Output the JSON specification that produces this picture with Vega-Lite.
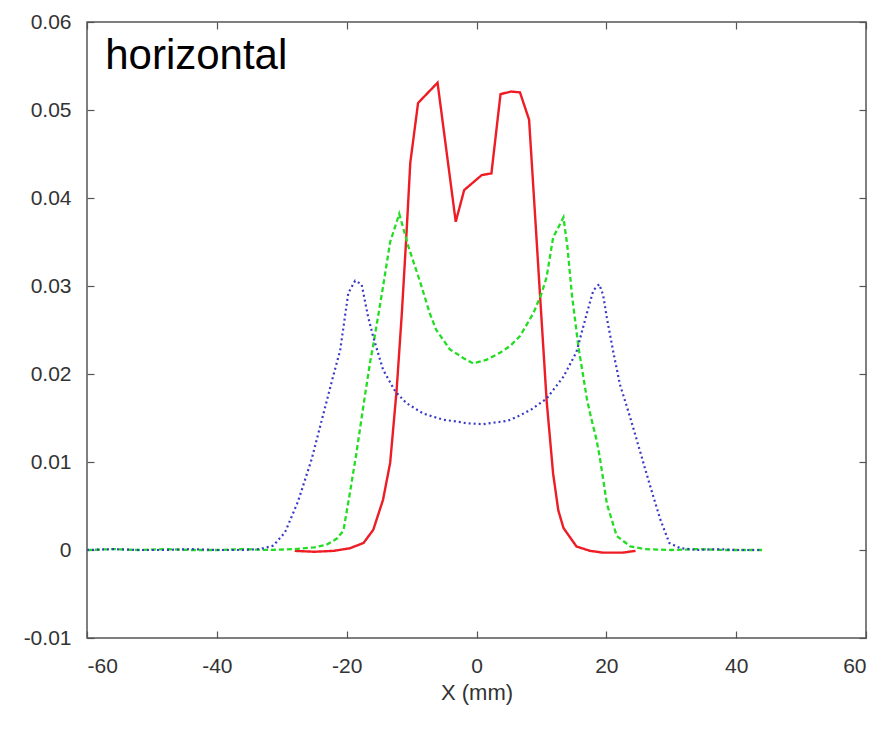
{
  "$schema": "https://vega.github.io/schema/vega-lite/v6.json",
  "width": 779,
  "height": 616,
  "autosize": {"type": "none"},
  "padding": {"left": 87, "top": 22, "right": 20, "bottom": 96},
  "background": "white",
  "config": {
    "view": {"stroke": "#555555", "strokeWidth": 1.5},
    "axis": {
      "grid": false,
      "domain": false,
      "tickColor": "#555555",
      "tickWidth": 1.2,
      "tickSize": -7,
      "labelFont": "Liberation Sans",
      "labelFontSize": 21,
      "labelColor": "#333333",
      "titleFont": "Liberation Sans",
      "titleFontSize": 22,
      "titleFontWeight": "normal",
      "titleColor": "#333333"
    }
  },
  "datasets": {
    "curves": [
      {"series": "red", "x": -28, "y": -0.0001},
      {"series": "red", "x": -25, "y": -0.0002},
      {"series": "red", "x": -22, "y": -0.0001},
      {"series": "red", "x": -19.5, "y": 0.0002},
      {"series": "red", "x": -17.4, "y": 0.0008},
      {"series": "red", "x": -15.9, "y": 0.0023},
      {"series": "red", "x": -14.4, "y": 0.0057},
      {"series": "red", "x": -13.3, "y": 0.0099},
      {"series": "red", "x": -12.3, "y": 0.0182},
      {"series": "red", "x": -11.5, "y": 0.0269},
      {"series": "red", "x": -10.75, "y": 0.0364},
      {"series": "red", "x": -10.2, "y": 0.044},
      {"series": "red", "x": -9.0, "y": 0.0508},
      {"series": "red", "x": -6.0, "y": 0.0531},
      {"series": "red", "x": -3.2, "y": 0.0373},
      {"series": "red", "x": -1.9, "y": 0.0409},
      {"series": "red", "x": 0.8, "y": 0.0426},
      {"series": "red", "x": 2.3, "y": 0.0428},
      {"series": "red", "x": 3.7, "y": 0.0518},
      {"series": "red", "x": 5.3, "y": 0.0521},
      {"series": "red", "x": 6.7, "y": 0.052},
      {"series": "red", "x": 8.1, "y": 0.0489},
      {"series": "red", "x": 9.0, "y": 0.0383},
      {"series": "red", "x": 9.8, "y": 0.0288},
      {"series": "red", "x": 10.8, "y": 0.017},
      {"series": "red", "x": 11.8, "y": 0.0087},
      {"series": "red", "x": 12.6, "y": 0.0045},
      {"series": "red", "x": 13.4, "y": 0.0025},
      {"series": "red", "x": 15.4, "y": 0.0004},
      {"series": "red", "x": 17.5, "y": -0.0001},
      {"series": "red", "x": 19.5, "y": -0.0003},
      {"series": "red", "x": 22.5, "y": -0.0003},
      {"series": "red", "x": 24.5, "y": -0.0001},

      {"series": "green", "x": -60, "y": 0},
      {"series": "green", "x": -56, "y": 0.0001},
      {"series": "green", "x": -52, "y": 0},
      {"series": "green", "x": -48, "y": 0.0001},
      {"series": "green", "x": -44, "y": 0},
      {"series": "green", "x": -40, "y": 0},
      {"series": "green", "x": -36, "y": 0.0001},
      {"series": "green", "x": -32, "y": 0},
      {"series": "green", "x": -28, "y": 0.0001},
      {"series": "green", "x": -25, "y": 0.0003},
      {"series": "green", "x": -23.1, "y": 0.0006},
      {"series": "green", "x": -21.5, "y": 0.0013},
      {"series": "green", "x": -20.5, "y": 0.0022},
      {"series": "green", "x": -19.5, "y": 0.0065},
      {"series": "green", "x": -18.5, "y": 0.011},
      {"series": "green", "x": -17.4, "y": 0.0165},
      {"series": "green", "x": -16.4, "y": 0.0213},
      {"series": "green", "x": -15.9, "y": 0.0233},
      {"series": "green", "x": -14.6, "y": 0.029},
      {"series": "green", "x": -13.3, "y": 0.035},
      {"series": "green", "x": -11.9, "y": 0.0382},
      {"series": "green", "x": -10.5, "y": 0.0345},
      {"series": "green", "x": -8.7, "y": 0.0305},
      {"series": "green", "x": -7.2, "y": 0.0269},
      {"series": "green", "x": -6.2, "y": 0.025},
      {"series": "green", "x": -4.1, "y": 0.0228},
      {"series": "green", "x": -2.0, "y": 0.0218},
      {"series": "green", "x": -0.5, "y": 0.0212},
      {"series": "green", "x": 1.5, "y": 0.0216},
      {"series": "green", "x": 3.6, "y": 0.0224},
      {"series": "green", "x": 5.2, "y": 0.0232},
      {"series": "green", "x": 6.7, "y": 0.0243},
      {"series": "green", "x": 8.75, "y": 0.0269},
      {"series": "green", "x": 10.0, "y": 0.0291},
      {"series": "green", "x": 10.8, "y": 0.031},
      {"series": "green", "x": 11.8, "y": 0.0355},
      {"series": "green", "x": 13.4, "y": 0.0378},
      {"series": "green", "x": 14.0, "y": 0.0345},
      {"series": "green", "x": 14.7, "y": 0.029},
      {"series": "green", "x": 15.7, "y": 0.0231},
      {"series": "green", "x": 17.0, "y": 0.0172},
      {"series": "green", "x": 17.5, "y": 0.0155},
      {"series": "green", "x": 18.5, "y": 0.0125},
      {"series": "green", "x": 19.0, "y": 0.0105},
      {"series": "green", "x": 20.1, "y": 0.0052},
      {"series": "green", "x": 21.6, "y": 0.0016},
      {"series": "green", "x": 23.7, "y": 0.0004},
      {"series": "green", "x": 26, "y": 0.0001},
      {"series": "green", "x": 30, "y": 0},
      {"series": "green", "x": 34, "y": 0.0001},
      {"series": "green", "x": 38, "y": 0},
      {"series": "green", "x": 42, "y": 0},
      {"series": "green", "x": 44, "y": 0},

      {"series": "blue", "x": -60, "y": 0},
      {"series": "blue", "x": -56, "y": 0.0001},
      {"series": "blue", "x": -52, "y": 0},
      {"series": "blue", "x": -48, "y": 0},
      {"series": "blue", "x": -44, "y": 0.0001},
      {"series": "blue", "x": -40, "y": 0},
      {"series": "blue", "x": -36, "y": 0},
      {"series": "blue", "x": -33.4, "y": 0.0001},
      {"series": "blue", "x": -31.3, "y": 0.0005},
      {"series": "blue", "x": -29.5, "y": 0.002},
      {"series": "blue", "x": -27.5, "y": 0.0055},
      {"series": "blue", "x": -25.4, "y": 0.0103},
      {"series": "blue", "x": -23.4, "y": 0.016},
      {"series": "blue", "x": -22.1, "y": 0.0197},
      {"series": "blue", "x": -21.0, "y": 0.0227},
      {"series": "blue", "x": -19.75, "y": 0.0292},
      {"series": "blue", "x": -18.7, "y": 0.0306},
      {"series": "blue", "x": -17.7, "y": 0.0302},
      {"series": "blue", "x": -16.7, "y": 0.0265},
      {"series": "blue", "x": -15.9, "y": 0.0242},
      {"series": "blue", "x": -14.4, "y": 0.0205},
      {"series": "blue", "x": -12.5, "y": 0.018},
      {"series": "blue", "x": -10.8, "y": 0.0167},
      {"series": "blue", "x": -8.2, "y": 0.0155},
      {"series": "blue", "x": -5.1, "y": 0.0148},
      {"series": "blue", "x": -3.0, "y": 0.0146},
      {"series": "blue", "x": -1.5, "y": 0.0144},
      {"series": "blue", "x": 1.0, "y": 0.0143},
      {"series": "blue", "x": 3.0, "y": 0.0145},
      {"series": "blue", "x": 4.9, "y": 0.0147},
      {"series": "blue", "x": 6.7, "y": 0.0153},
      {"series": "blue", "x": 8.5, "y": 0.016},
      {"series": "blue", "x": 10.8, "y": 0.0172},
      {"series": "blue", "x": 13.4, "y": 0.0197},
      {"series": "blue", "x": 15.4, "y": 0.0225},
      {"series": "blue", "x": 17.0, "y": 0.0269},
      {"series": "blue", "x": 18.0, "y": 0.0295},
      {"series": "blue", "x": 18.9, "y": 0.0302},
      {"series": "blue", "x": 19.5, "y": 0.029},
      {"series": "blue", "x": 20.1, "y": 0.0263},
      {"series": "blue", "x": 21.1, "y": 0.0224},
      {"series": "blue", "x": 22.1, "y": 0.0188},
      {"series": "blue", "x": 23.7, "y": 0.015},
      {"series": "blue", "x": 25.2, "y": 0.0112},
      {"series": "blue", "x": 26.7, "y": 0.0074},
      {"series": "blue", "x": 28.3, "y": 0.0035},
      {"series": "blue", "x": 29.7, "y": 0.0008},
      {"series": "blue", "x": 31.4, "y": 0.0002},
      {"series": "blue", "x": 34, "y": 0},
      {"series": "blue", "x": 37, "y": 0.0001},
      {"series": "blue", "x": 40, "y": 0},
      {"series": "blue", "x": 44, "y": 0}
    ],
    "note": [{"x": -57.2, "y": 0.0547, "label": "horizontal"}]
  },
  "layer": [
    {
      "data": {"name": "curves"},
      "mark": {"type": "line", "clip": true},
      "encoding": {
        "x": {
          "field": "x", "type": "quantitative",
          "scale": {"domain": [-60, 60], "nice": false, "zero": false},
          "axis": {
            "orient": "bottom",
            "values": [-60, -40, -20, 0, 20, 40, 60],
            "labelPadding": 24,
            "labelExpr": "datum.value < 0 ? '-' + format(-datum.value, 'd') : format(datum.value, 'd')",
            "title": "X (mm)",
            "titlePadding": 6
          }
        },
        "y": {
          "field": "y", "type": "quantitative",
          "scale": {"domain": [-0.01, 0.06], "nice": false, "zero": false},
          "axis": {
            "orient": "left",
            "values": [-0.01, 0, 0.01, 0.02, 0.03, 0.04, 0.05, 0.06],
            "labelPadding": 23,
            "labelExpr": "datum.value == 0 ? '0' : (datum.value < 0 ? '-' + format(-datum.value, '.2f') : format(datum.value, '.2f'))",
            "title": null
          }
        },
        "color": {
          "field": "series", "type": "nominal",
          "scale": {"domain": ["red", "green", "blue"], "range": ["#ee1c24", "#22dd22", "#3a3ac8"]},
          "legend": null
        },
        "strokeDash": {
          "field": "series", "type": "nominal",
          "scale": {"domain": ["red", "green", "blue"], "range": [[1, 0], [5, 3], [2, 3]]},
          "legend": null
        },
        "strokeWidth": {
          "field": "series", "type": "nominal",
          "scale": {"domain": ["red", "green", "blue"], "range": [2.4, 2.2, 2.6]},
          "legend": null
        }
      }
    },
    {
      "data": {"name": "note"},
      "mark": {"type": "text", "align": "left", "baseline": "alphabetic", "fontSize": 42, "font": "Liberation Sans", "color": "#000000"},
      "encoding": {
        "x": {
          "field": "x", "type": "quantitative",
          "scale": {"domain": [-60, 60], "nice": false, "zero": false},
          "axis": {"orient": "top", "values": [-60, -40, -20, 0, 20, 40, 60], "labels": false, "title": null}
        },
        "y": {
          "field": "y", "type": "quantitative",
          "scale": {"domain": [-0.01, 0.06], "nice": false, "zero": false},
          "axis": {"orient": "right", "values": [-0.01, 0, 0.01, 0.02, 0.03, 0.04, 0.05, 0.06], "labels": false, "title": null}
        },
        "text": {"field": "label"}
      }
    }
  ],
  "resolve": {"axis": {"x": "independent", "y": "independent"}}
}
